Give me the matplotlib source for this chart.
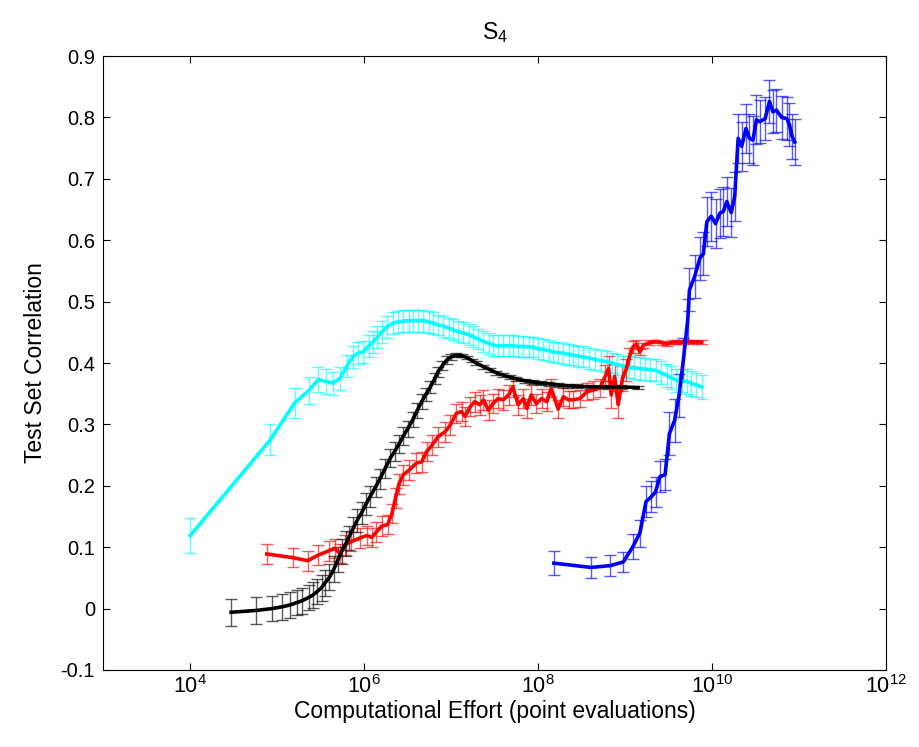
import numpy as np
import matplotlib
matplotlib.use("Agg")
import matplotlib.pyplot as plt

plt.rcParams['font.family'] = ['Liberation Sans', 'DejaVu Sans']
plt.rcParams['mathtext.fontset'] = 'custom'
plt.rcParams['mathtext.rm'] = 'Liberation Sans'
plt.rcParams['mathtext.it'] = 'Liberation Sans'

# x values are stored as log10 exponents of the computational effort
cyan_exp = [4.00, 4.92, 5.20, 5.37, 5.47, 5.56, 5.64, 5.72, 5.80, 5.87, 5.93, 5.99,
            6.05, 6.10, 6.15, 6.20, 6.26, 6.33, 6.39, 6.45, 6.51, 6.56, 6.62, 6.68,
            6.74, 6.79, 6.85, 6.91, 6.97, 7.02, 7.08, 7.14, 7.20, 7.25, 7.31, 7.37,
            7.43, 7.48, 7.54, 7.60, 7.66, 7.71, 7.77, 7.83, 7.89, 7.94, 8.00, 8.06,
            8.12, 8.17, 8.23, 8.29, 8.35, 8.40, 8.46, 8.52, 8.59, 8.65, 8.72, 8.79,
            8.85, 8.91, 8.98, 9.04, 9.10, 9.17, 9.23, 9.29, 9.35, 9.41, 9.48, 9.53,
            9.59, 9.65, 9.71, 9.76, 9.82, 9.88]
cyan_y = [0.119, 0.275, 0.335, 0.356, 0.373, 0.370, 0.367, 0.375, 0.395, 0.410, 0.416, 0.418,
          0.428, 0.434, 0.442, 0.450, 0.459, 0.465, 0.467, 0.468, 0.469, 0.469, 0.469, 0.469,
          0.467, 0.465, 0.462, 0.460, 0.457, 0.454, 0.451, 0.449, 0.446, 0.443, 0.439, 0.435,
          0.432, 0.429, 0.428, 0.428, 0.428, 0.428, 0.427, 0.427, 0.426, 0.426, 0.423, 0.422,
          0.420, 0.418, 0.417, 0.416, 0.414, 0.413, 0.411, 0.410, 0.408, 0.406, 0.404, 0.402,
          0.400, 0.397, 0.395, 0.393, 0.392, 0.391, 0.390, 0.389, 0.388, 0.384, 0.380, 0.376,
          0.372, 0.371, 0.370, 0.367, 0.364, 0.361]
cyan_err = [0.028, 0.025, 0.024, 0.022, 0.021, 0.020, 0.019, 0.019, 0.018, 0.018, 0.018, 0.018,
            0.018, 0.018, 0.018, 0.018, 0.018, 0.018, 0.018, 0.018, 0.018, 0.018, 0.018, 0.018,
            0.018, 0.018, 0.017, 0.017, 0.017, 0.017, 0.017, 0.017, 0.017, 0.017, 0.017, 0.017,
            0.017, 0.017, 0.017, 0.017, 0.017, 0.017, 0.017, 0.017, 0.017, 0.017, 0.017, 0.017,
            0.017, 0.017, 0.017, 0.017, 0.017, 0.017, 0.017, 0.017, 0.017, 0.017, 0.017, 0.017,
            0.017, 0.017, 0.017, 0.018, 0.018, 0.018, 0.018, 0.018, 0.018, 0.019, 0.019, 0.019,
            0.019, 0.019, 0.020, 0.020, 0.020, 0.020]

black_exp = [4.47, 4.76, 4.94, 5.06, 5.15, 5.23, 5.29, 5.36, 5.41, 5.46, 5.51, 5.55,
             5.60, 5.65, 5.70, 5.74, 5.79, 5.82, 5.87, 5.92, 5.97, 6.02, 6.07, 6.13,
             6.18, 6.24, 6.30, 6.35, 6.40, 6.45, 6.50, 6.56, 6.61, 6.66, 6.71, 6.76,
             6.81, 6.85, 6.90, 6.95, 7.00, 7.06, 7.12, 7.18, 7.24, 7.29, 7.37, 7.45,
             7.52, 7.60, 7.68, 7.75, 7.85, 7.94, 8.03, 8.13, 8.23, 8.33, 8.45, 8.60,
             8.79, 8.95, 9.15]
black_y = [-0.006, -0.003, 0.000, 0.003, 0.006, 0.010, 0.013, 0.018, 0.022, 0.028, 0.034, 0.042,
           0.051, 0.064, 0.080, 0.093, 0.106, 0.115, 0.130, 0.144, 0.156, 0.170, 0.183, 0.198,
           0.211, 0.228, 0.245, 0.256, 0.268, 0.281, 0.293, 0.308, 0.323, 0.337, 0.349, 0.361,
           0.374, 0.386, 0.396, 0.405, 0.410, 0.413, 0.412, 0.409, 0.404, 0.400, 0.394, 0.389,
           0.384, 0.380, 0.377, 0.374, 0.371, 0.369, 0.367, 0.366, 0.364, 0.363, 0.362, 0.361,
           0.361, 0.361, 0.360]
black_err = [0.022, 0.022, 0.021, 0.021, 0.021, 0.021, 0.021, 0.021, 0.021, 0.021, 0.021, 0.021,
             0.021, 0.021, 0.021, 0.020, 0.020, 0.020, 0.019, 0.019, 0.018, 0.018, 0.017, 0.017,
             0.016, 0.016, 0.015, 0.015, 0.014, 0.014, 0.013, 0.013, 0.012, 0.012, 0.011, 0.010,
             0.009, 0.008, 0.007, 0.006, 0.005, 0.004, 0.003, 0.003, 0.003, 0.003, 0.003, 0.003,
             0.003, 0.003, 0.003, 0.003, 0.003, 0.003, 0.003, 0.003, 0.003, 0.003, 0.003, 0.003,
             0.003, 0.003, 0.003]

red_exp = [4.88, 5.18, 5.35, 5.47, 5.59, 5.66, 5.72, 5.78, 5.85, 5.95, 6.03, 6.09,
           6.14, 6.20, 6.27, 6.32, 6.36, 6.40, 6.45, 6.52, 6.60, 6.66, 6.72, 6.78,
           6.85, 6.93, 6.99, 7.06, 7.12, 7.16, 7.22, 7.27, 7.33, 7.37, 7.43, 7.48,
           7.54, 7.60, 7.66, 7.71, 7.77, 7.83, 7.87, 7.92, 7.98, 8.04, 8.10, 8.15,
           8.23, 8.29, 8.35, 8.40, 8.48, 8.56, 8.63, 8.71, 8.77, 8.81, 8.84, 8.88,
           8.92, 8.97, 9.01, 9.05, 9.09, 9.13, 9.17, 9.21, 9.28, 9.36, 9.42, 9.48,
           9.55, 9.61, 9.67, 9.73, 9.78, 9.88]
red_y = [0.089, 0.083, 0.078, 0.087, 0.094, 0.098, 0.090, 0.104, 0.109, 0.115, 0.119, 0.116,
         0.125, 0.134, 0.137, 0.155, 0.180, 0.203, 0.218, 0.226, 0.237, 0.239, 0.256, 0.266,
         0.280, 0.288, 0.299, 0.318, 0.321, 0.313, 0.329, 0.337, 0.332, 0.340, 0.323, 0.334,
         0.342, 0.340, 0.348, 0.361, 0.332, 0.342, 0.326, 0.348, 0.334, 0.342, 0.337, 0.359,
         0.325, 0.345, 0.340, 0.340, 0.342, 0.353, 0.356, 0.359, 0.378, 0.391, 0.348, 0.378,
         0.332, 0.375, 0.389, 0.410, 0.426, 0.431, 0.418, 0.429, 0.433, 0.435, 0.433, 0.431,
         0.434, 0.434, 0.434, 0.435, 0.434, 0.434]
red_err = [0.016, 0.016, 0.016, 0.016, 0.016, 0.016, 0.016, 0.016, 0.016, 0.016, 0.016, 0.016,
           0.016, 0.016, 0.016, 0.016, 0.016, 0.016, 0.016, 0.016, 0.016, 0.016, 0.016, 0.016,
           0.016, 0.016, 0.016, 0.016, 0.016, 0.016, 0.016, 0.016, 0.016, 0.016, 0.016, 0.016,
           0.016, 0.016, 0.016, 0.016, 0.016, 0.016, 0.016, 0.016, 0.016, 0.015, 0.015, 0.015,
           0.015, 0.015, 0.014, 0.014, 0.014, 0.014, 0.014, 0.015, 0.018, 0.020, 0.022, 0.020,
           0.022, 0.020, 0.018, 0.015, 0.010, 0.006, 0.005, 0.004, 0.004, 0.003, 0.003, 0.003,
           0.003, 0.003, 0.003, 0.003, 0.003, 0.003]

blue_exp = [8.18, 8.61, 8.83, 8.98, 9.09, 9.17, 9.24, 9.30, 9.35, 9.40, 9.46, 9.51,
            9.57, 9.62, 9.67, 9.72, 9.74, 9.80, 9.86, 9.90, 9.94, 9.99, 10.04, 10.09,
            10.13, 10.17, 10.22, 10.26, 10.30, 10.34, 10.39, 10.43, 10.47, 10.51, 10.55, 10.61,
            10.66, 10.70, 10.74, 10.80, 10.86, 10.89, 10.92, 10.95]
blue_y = [0.074, 0.067, 0.070, 0.076, 0.101, 0.123, 0.174, 0.182, 0.190, 0.215, 0.218, 0.285,
          0.307, 0.347, 0.405, 0.470, 0.519, 0.541, 0.571, 0.578, 0.630, 0.639, 0.627, 0.644,
          0.647, 0.663, 0.645, 0.671, 0.766, 0.753, 0.782, 0.766, 0.763, 0.796, 0.793, 0.798,
          0.826, 0.809, 0.812, 0.800, 0.798, 0.788, 0.769, 0.760]
blue_err = [0.020, 0.017, 0.017, 0.016, 0.020, 0.022, 0.025, 0.025, 0.025, 0.025, 0.025, 0.035,
            0.035, 0.035, 0.035, 0.035, 0.035, 0.035, 0.035, 0.035, 0.040, 0.040, 0.040, 0.040,
            0.040, 0.040, 0.040, 0.040, 0.040, 0.040, 0.040, 0.040, 0.040, 0.040, 0.035, 0.035,
            0.035, 0.035, 0.035, 0.035, 0.035, 0.035, 0.037, 0.037]

series = [
    (cyan_exp, cyan_y, cyan_err, '#00FFFF'),
    (red_exp, red_y, red_err, '#FF0000'),
    (black_exp, black_y, black_err, '#000000'),
    (blue_exp, blue_y, blue_err, '#0000FF'),
]

fig = plt.figure(figsize=(9.19, 7.47), dpi=100)
ax = fig.add_axes([0.1124, 0.1031, 0.8517, 0.8219])

for xe, yv, ev, col in series:
    x = 10.0 ** np.array(xe)
    eb = ax.errorbar(x, yv, yerr=ev, color=col, lw=2.6, elinewidth=1.0,
                     capsize=4, capthick=1.0, ecolor=col)
    for art in eb[1]:
        art.set_alpha(0.65)
    for art in eb[2]:
        art.set_alpha(0.65)

ax.set_xscale('log')
ax.set_xlim(1e3, 1e12)
ax.set_ylim(-0.1, 0.9)
ax.set_xticks([1e4, 1e6, 1e8, 1e10, 1e12])
ax.set_xticklabels(['$10^{4}$', '$10^{6}$', '$10^{8}$', '$10^{10}$', '$10^{12}$'])
ax.xaxis.set_minor_locator(matplotlib.ticker.NullLocator())
ax.set_yticks(np.arange(-0.1, 0.91, 0.1))
ax.set_yticklabels(['-0.1', '0', '0.1', '0.2', '0.3', '0.4', '0.5', '0.6', '0.7', '0.8', '0.9'])
ax.tick_params(direction='in', top=True, right=True, length=5, width=0.8, pad=6)
ax.tick_params(axis='y', labelsize=14.5)
ax.tick_params(axis='x', labelsize=15.5, pad=4)
for sp in ax.spines.values():
    sp.set_linewidth(0.8)

ax.set_xlabel('Computational Effort (point evaluations)', fontsize=16.5, labelpad=1)
ax.set_ylabel('Test Set Correlation', fontsize=16.5, labelpad=10)
ax.set_title('S$_4$', fontsize=16.5, pad=12)

fig.savefig('out.png', dpi=100)
